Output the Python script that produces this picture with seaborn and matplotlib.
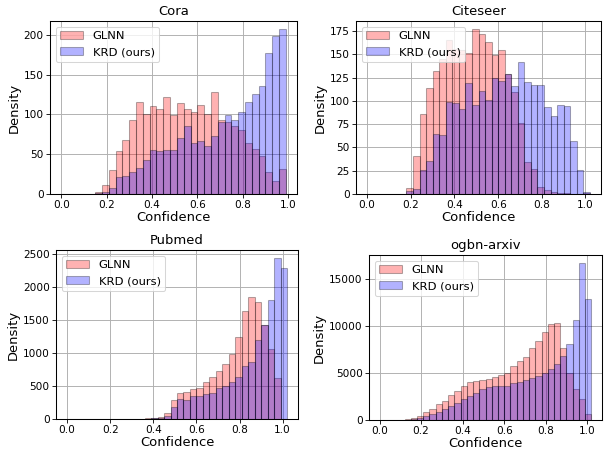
"""
Confidence histograms: GLNN vs KRD on four datasets.
"""

import numpy as np
import pandas as pd
import matplotlib
matplotlib.use("Agg")
import matplotlib.pyplot as plt
import seaborn as sns
from matplotlib.colors import to_rgba

sns.set_style("ticks", {"axes.grid": True})
plt.rcParams["font.family"] = ["DejaVu Sans"]
for key in ["text.color", "axes.labelcolor", "xtick.color", "ytick.color"]:
    plt.rcParams[key] = "black"

BIN_W = 0.03

# bin counts, bin i covers [0.03*i, 0.03*(i+1)]
cora_glnn = [0, 0, 0, 0, 0, 3, 11, 30, 54, 68, 93, 115, 100, 110, 107, 122, 99,
             114, 107, 103, 112, 101, 128, 93, 91, 86, 80, 64, 56, 48, 28, 16, 31]
cora_krd = [0, 0, 0, 0, 0, 1, 3, 7, 21, 23, 28, 33, 43, 55, 54, 55, 55,
            70, 85, 64, 66, 60, 73, 91, 99, 93, 103, 115, 126, 136, 177, 198, 207]

citeseer_glnn = [0, 0, 0, 0, 0, 0, 6, 41, 86, 114, 132, 145, 165, 156, 155, 151, 177,
                 172, 163, 149, 155, 129, 110, 76, 34, 27, 8, 4, 2, 1, 1, 0, 0, 1]
citeseer_krd = [0, 0, 0, 0, 0, 0, 3, 5, 26, 35, 64, 63, 99, 98, 91, 119, 96,
                111, 101, 125, 121, 129, 116, 142, 120, 117, 117, 93, 84, 96, 94, 57, 26, 2]

pubmed_glnn = [0, 0, 0, 0, 0, 0, 0, 0, 0, 0, 0, 5, 10, 20, 35, 86, 293,
               390, 405, 450, 475, 567, 638, 729, 835, 987, 1240, 1640, 1857, 1771,
               1430, 1058, 628, 0]
pubmed_krd = [0, 0, 0, 0, 0, 0, 0, 0, 0, 0, 0, 2, 5, 10, 20, 50, 187,
              298, 293, 349, 349, 374, 390, 466, 506, 567, 643, 800, 860, 1194,
              1425, 1797, 2440, 2287]

arxiv_glnn = [0, 0, 0, 30, 60, 200, 450, 800, 1200, 1650, 2000, 2700, 3100, 3600,
              4000, 4100, 4200, 4400, 4600, 4800, 5000, 5700, 6300, 6700, 7600, 8400,
              9300, 10200, 10300, 7600, 5000, 3270, 2240, 600]
arxiv_krd = [0, 0, 0, 15, 30, 100, 250, 450, 600, 850, 1200, 1500, 1800, 2200,
             2500, 2900, 3300, 3500, 3600, 3600, 3650, 3900, 4000, 4200, 4500, 4700,
             5000, 5400, 6000, 6800, 8100, 10600, 16700, 12900]

panels = [
    ("Cora", cora_glnn, cora_krd, [50, 21, 297, 194]),
    ("Citeseer", citeseer_glnn, citeseer_krd, [356, 21, 601, 194]),
    ("Pubmed", pubmed_glnn, pubmed_krd, [56, 250, 298, 419]),
    ("ogbn-arxiv", arxiv_glnn, arxiv_krd, [369, 255, 602, 420]),
]

W, H, DPI = 604, 449, 75.5
fig = plt.figure(figsize=(W / DPI, H / DPI), dpi=DPI)
edge = to_rgba("black", 0.3)

for title, glnn, krd, (x0, y0, x1, y1) in panels:
    ax = fig.add_axes([x0 / W, 1 - y1 / H, (x1 - x0) / W, (y1 - y0) / H])
    n = len(glnn)
    edges = [round(i * BIN_W, 4) for i in range(n + 1)]
    df = pd.DataFrame({
        "conf": [e + BIN_W / 2 for e in edges[:-1]],
        "glnn": glnn,
        "krd": krd,
    })
    sns.histplot(data=df, x="conf", weights="glnn", bins=edges, color="red",
                 alpha=0.3, edgecolor=edge, linewidth=1, label="GLNN", ax=ax)
    sns.histplot(data=df, x="conf", weights="krd", bins=edges, color="blue",
                 alpha=0.3, edgecolor=edge, linewidth=1, label="KRD (ours)", ax=ax)
    ax.set_title(title, fontsize=12.5)
    ax.set_xlabel("Confidence", fontsize=12.5, labelpad=0.5)
    ax.set_ylabel("Density", fontsize=12.5, labelpad=3)
    ax.set_xticks(np.arange(0, 1.01, 0.2))
    ax.tick_params(labelsize=10, length=3.5, pad=2.5)
    ax.grid(True, color="#b0b0b0", linewidth=0.9)
    for s in ax.spines.values():
        s.set_color("black")
        s.set_linewidth(1)
    ax.legend(loc="upper left", fontsize=11)

plt.savefig("out.png", dpi=DPI)
plt.close()
